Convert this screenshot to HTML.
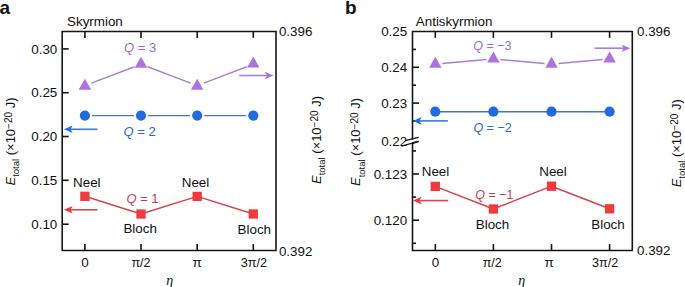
<!DOCTYPE html>
<html><head><meta charset="utf-8"><style>
html,body{margin:0;padding:0;background:#fff;}
body{width:685px;height:287px;overflow:hidden;font-family:"Liberation Sans",sans-serif;}
svg{display:block;}
</style></head><body>
<svg width="685" height="287" viewBox="0 0 685 287" font-family="Liberation Sans, sans-serif">
<rect width="685" height="287" fill="#fff"/>
<path d="M62.2,31.5 H276 V250.5 H62.2 Z" fill="none" stroke="#151515" stroke-width="1.6"/>
<line x1="84.9" y1="31.5" x2="84.9" y2="37.9" stroke="#151515" stroke-width="1.6"/>
<line x1="84.9" y1="250.5" x2="84.9" y2="244.1" stroke="#151515" stroke-width="1.6"/>
<line x1="141" y1="31.5" x2="141" y2="37.9" stroke="#151515" stroke-width="1.6"/>
<line x1="141" y1="250.5" x2="141" y2="244.1" stroke="#151515" stroke-width="1.6"/>
<line x1="197.2" y1="31.5" x2="197.2" y2="37.9" stroke="#151515" stroke-width="1.6"/>
<line x1="197.2" y1="250.5" x2="197.2" y2="244.1" stroke="#151515" stroke-width="1.6"/>
<line x1="253.3" y1="31.5" x2="253.3" y2="37.9" stroke="#151515" stroke-width="1.6"/>
<line x1="253.3" y1="250.5" x2="253.3" y2="244.1" stroke="#151515" stroke-width="1.6"/>
<line x1="62.2" y1="48.9" x2="68.7" y2="48.9" stroke="#151515" stroke-width="1.6"/>
<text x="57.3" y="53.6" text-anchor="end" font-size="13.4" fill="#111" >0.30</text>
<line x1="62.2" y1="92.7" x2="68.7" y2="92.7" stroke="#151515" stroke-width="1.6"/>
<text x="57.3" y="97.4" text-anchor="end" font-size="13.4" fill="#111" >0.25</text>
<line x1="62.2" y1="136.5" x2="68.7" y2="136.5" stroke="#151515" stroke-width="1.6"/>
<text x="57.3" y="141.2" text-anchor="end" font-size="13.4" fill="#111" >0.20</text>
<line x1="62.2" y1="180.3" x2="68.7" y2="180.3" stroke="#151515" stroke-width="1.6"/>
<text x="57.3" y="185" text-anchor="end" font-size="13.4" fill="#111" >0.15</text>
<line x1="62.2" y1="224.2" x2="68.7" y2="224.2" stroke="#151515" stroke-width="1.6"/>
<text x="57.3" y="228.9" text-anchor="end" font-size="13.4" fill="#111" >0.10</text>
<text x="84.9" y="266.7" text-anchor="middle" font-size="13.4" fill="#111" >0</text>
<text x="141" y="266.7" text-anchor="middle" font-size="13.4" fill="#111" textLength="19.2" lengthAdjust="spacingAndGlyphs">π/2</text>
<text x="197.2" y="266.7" text-anchor="middle" font-size="13.4" fill="#111" >π</text>
<text x="253.9" y="266.7" text-anchor="middle" font-size="13.4" fill="#111" textLength="26.3" lengthAdjust="spacingAndGlyphs">3π/2</text>
<text x="169.8" y="284.5" text-anchor="middle" font-size="14" fill="#111" font-style="italic" font-family="Liberation Serif, serif">η</text>
<text x="278.9" y="36.2" text-anchor="start" font-size="13.4" fill="#111" >0.396</text>
<text x="278.9" y="256.1" text-anchor="start" font-size="13.4" fill="#111" >0.392</text>
<text x="67" y="25.8" text-anchor="start" font-size="13.4" fill="#111" >Skyrmion</text>
<text x="-0.5" y="13.6" text-anchor="start" font-size="19" fill="#111" font-weight="bold">a</text>
<text transform="translate(14.6,141.5) rotate(-90)" x="0" y="0" text-anchor="middle" font-size="13" fill="#111"><tspan font-style="italic">E</tspan><tspan font-size="9.5" dy="4.3">total</tspan><tspan dy="-4.3"> (×10</tspan><tspan font-size="10" dy="-2.6">−20</tspan><tspan dy="2.6"> J)</tspan></text>
<text transform="translate(320.6,140) rotate(-90)" x="0" y="0" text-anchor="middle" font-size="13" fill="#111"><tspan font-style="italic">E</tspan><tspan font-size="9.5" dy="4.3">total</tspan><tspan dy="-4.3"> (×10</tspan><tspan font-size="10" dy="-2.6">−20</tspan><tspan dy="2.6"> J)</tspan></text>
<line x1="91.44" y1="83.12" x2="134.46" y2="66.78" stroke="#a582d8" stroke-width="1.45"/>
<line x1="147.55" y1="66.78" x2="190.65" y2="83.12" stroke="#a582d8" stroke-width="1.45"/>
<line x1="203.74" y1="83.12" x2="246.76" y2="66.78" stroke="#a582d8" stroke-width="1.45"/>
<path d="M84.9,78.7 L91.15,89.7 L78.65,89.7 Z" fill="#ad72e0"/>
<path d="M141,56.65 L147.25,67.65 L134.75,67.65 Z" fill="#ad72e0"/>
<path d="M197.2,78.7 L203.45,89.7 L190.95,89.7 Z" fill="#ad72e0"/>
<path d="M253.3,56.5 L259.55,67.5 L247.05,67.5 Z" fill="#ad72e0"/>
<line x1="84.9" y1="115.6" x2="253.3" y2="115.6" stroke="#4577c0" stroke-width="1.45"/>
<circle cx="84.9" cy="115.6" r="7.1" fill="#fff"/>
<circle cx="84.9" cy="115.6" r="5.1" fill="#216cdc"/>
<circle cx="141" cy="115.6" r="7.1" fill="#fff"/>
<circle cx="141" cy="115.6" r="5.1" fill="#216cdc"/>
<circle cx="197.2" cy="115.6" r="7.1" fill="#fff"/>
<circle cx="197.2" cy="115.6" r="5.1" fill="#216cdc"/>
<circle cx="253.3" cy="115.6" r="7.1" fill="#fff"/>
<circle cx="253.3" cy="115.6" r="5.1" fill="#216cdc"/>
<line x1="84.9" y1="196.3" x2="141" y2="214" stroke="#d6434f" stroke-width="1.45"/>
<line x1="141" y1="214" x2="197.2" y2="196.4" stroke="#d6434f" stroke-width="1.45"/>
<line x1="197.2" y1="196.4" x2="253.3" y2="214" stroke="#d6434f" stroke-width="1.45"/>
<rect x="80.25" y="191.65" width="9.3" height="9.3" fill="#ef3a3e"/>
<rect x="136.35" y="209.35" width="9.3" height="9.3" fill="#ef3a3e"/>
<rect x="192.55" y="191.75" width="9.3" height="9.3" fill="#ef3a3e"/>
<rect x="248.65" y="209.35" width="9.3" height="9.3" fill="#ef3a3e"/>
<line x1="239.2" y1="75.5" x2="267.4" y2="75.5" stroke="#a77fdc" stroke-width="1.6"/>
<path d="M273.5,75.5 L264.7,71.7 L266.9,75.5 L264.7,79.3 Z" fill="#ad72e0"/>
<line x1="97.5" y1="129.3" x2="70" y2="129.3" stroke="#3d78d2" stroke-width="1.6"/>
<path d="M63.9,129.3 L72.7,125.5 L70.5,129.3 L72.7,133.1 Z" fill="#216cdc"/>
<line x1="97.5" y1="209.8" x2="70" y2="209.8" stroke="#d24c57" stroke-width="1.6"/>
<path d="M63.9,209.8 L72.7,206 L70.5,209.8 L72.7,213.6 Z" fill="#ef3a3e"/>
<text x="124" y="52.3" text-anchor="start" font-size="13" fill="#9c6bd0"><tspan font-style="italic">Q</tspan> = 3</text>
<text x="123.6" y="135.6" text-anchor="start" font-size="13" fill="#2b69c4"><tspan font-style="italic">Q</tspan> = 2</text>
<text x="126.4" y="203" text-anchor="start" font-size="13" fill="#d03a48"><tspan font-style="italic">Q</tspan> = 1</text>
<text x="86.8" y="186.6" text-anchor="middle" font-size="13.4" fill="#111" >Neel</text>
<text x="195.5" y="187" text-anchor="middle" font-size="13.4" fill="#111" >Neel</text>
<text x="140.2" y="233.1" text-anchor="middle" font-size="13.4" fill="#111" >Bloch</text>
<text x="254.3" y="233.9" text-anchor="middle" font-size="13.4" fill="#111" >Bloch</text>
<path d="M412.5,139.8 V31.5 H632.3 V250.5 H412.5 V142.6" fill="none" stroke="#151515" stroke-width="1.6"/>
<line x1="435.3" y1="31.5" x2="435.3" y2="37.9" stroke="#151515" stroke-width="1.6"/>
<line x1="435.3" y1="250.5" x2="435.3" y2="244.1" stroke="#151515" stroke-width="1.6"/>
<line x1="493.4" y1="31.5" x2="493.4" y2="37.9" stroke="#151515" stroke-width="1.6"/>
<line x1="493.4" y1="250.5" x2="493.4" y2="244.1" stroke="#151515" stroke-width="1.6"/>
<line x1="551.5" y1="31.5" x2="551.5" y2="37.9" stroke="#151515" stroke-width="1.6"/>
<line x1="551.5" y1="250.5" x2="551.5" y2="244.1" stroke="#151515" stroke-width="1.6"/>
<line x1="609.6" y1="31.5" x2="609.6" y2="37.9" stroke="#151515" stroke-width="1.6"/>
<line x1="609.6" y1="250.5" x2="609.6" y2="244.1" stroke="#151515" stroke-width="1.6"/>
<line x1="412.5" y1="67.3" x2="419" y2="67.3" stroke="#151515" stroke-width="1.6"/>
<line x1="412.5" y1="103.1" x2="419" y2="103.1" stroke="#151515" stroke-width="1.6"/>
<line x1="412.5" y1="174" x2="419" y2="174" stroke="#151515" stroke-width="1.6"/>
<line x1="412.5" y1="220.2" x2="419" y2="220.2" stroke="#151515" stroke-width="1.6"/>
<line x1="412.5" y1="49.4" x2="416" y2="49.4" stroke="#151515" stroke-width="1.6"/>
<line x1="412.5" y1="85.2" x2="416" y2="85.2" stroke="#151515" stroke-width="1.6"/>
<line x1="412.5" y1="121" x2="416" y2="121" stroke="#151515" stroke-width="1.6"/>
<line x1="412.5" y1="150.9" x2="416" y2="150.9" stroke="#151515" stroke-width="1.6"/>
<line x1="412.5" y1="197.1" x2="416" y2="197.1" stroke="#151515" stroke-width="1.6"/>
<line x1="412.5" y1="243.3" x2="416" y2="243.3" stroke="#151515" stroke-width="1.6"/>
<path d="M405,140.7 L418.6,137.4 M401.5,146.2 L418.6,141.4" stroke="#151515" stroke-width="1.3" fill="none"/>
<path d="M412.6,141.9 L418.8,140.7 L418.6,142.1 L412.6,144.2 Z" fill="#151515"/>
<text x="407.2" y="36.2" text-anchor="end" font-size="13.4" fill="#111" >0.25</text>
<text x="407.2" y="72" text-anchor="end" font-size="13.4" fill="#111" >0.24</text>
<text x="407.2" y="107.8" text-anchor="end" font-size="13.4" fill="#111" >0.23</text>
<text x="407.2" y="146.3" text-anchor="end" font-size="13.4" fill="#111" >0.22</text>
<text x="407.2" y="178.7" text-anchor="end" font-size="13.4" fill="#111" >0.123</text>
<text x="407.2" y="224.9" text-anchor="end" font-size="13.4" fill="#111" >0.120</text>
<text x="435.6" y="266.8" text-anchor="middle" font-size="13.4" fill="#111" >0</text>
<text x="492.3" y="266.8" text-anchor="middle" font-size="13.4" fill="#111" textLength="19.2" lengthAdjust="spacingAndGlyphs">π/2</text>
<text x="549" y="266.8" text-anchor="middle" font-size="13.4" fill="#111" >π</text>
<text x="605.1" y="266.8" text-anchor="middle" font-size="13.4" fill="#111" textLength="26.3" lengthAdjust="spacingAndGlyphs">3π/2</text>
<text x="521.7" y="284.5" text-anchor="middle" font-size="14" fill="#111" font-style="italic" font-family="Liberation Serif, serif">η</text>
<text x="637" y="36.2" text-anchor="start" font-size="13.4" fill="#111" >0.396</text>
<text x="637" y="255" text-anchor="start" font-size="13.4" fill="#111" >0.392</text>
<text x="415.8" y="25.9" text-anchor="start" font-size="13.4" fill="#111" >Antiskyrmion</text>
<text x="345" y="13.6" text-anchor="start" font-size="19" fill="#111" font-weight="bold">b</text>
<text transform="translate(360.3,142) rotate(-90)" x="0" y="0" text-anchor="middle" font-size="13" fill="#111"><tspan font-style="italic">E</tspan><tspan font-size="9.5" dy="4.3">total</tspan><tspan dy="-4.3"> (×10</tspan><tspan font-size="10" dy="-2.6">−20</tspan><tspan dy="2.6"> J)</tspan></text>
<text transform="translate(680.8,143.3) rotate(-90)" x="0" y="0" text-anchor="middle" font-size="13" fill="#111"><tspan font-style="italic">E</tspan><tspan font-size="9.5" dy="4.3">total</tspan><tspan dy="-4.3"> (×10</tspan><tspan font-size="10" dy="-2.6">−20</tspan><tspan dy="2.6"> J)</tspan></text>
<line x1="442.27" y1="63.56" x2="486.43" y2="59.54" stroke="#a582d8" stroke-width="1.45"/>
<line x1="500.37" y1="59.54" x2="544.53" y2="63.56" stroke="#a582d8" stroke-width="1.45"/>
<line x1="558.47" y1="63.56" x2="602.63" y2="59.54" stroke="#a582d8" stroke-width="1.45"/>
<path d="M435.3,56.75 L441.55,67.75 L429.05,67.75 Z" fill="#ad72e0"/>
<path d="M493.4,51.4 L499.65,62.4 L487.15,62.4 Z" fill="#ad72e0"/>
<path d="M551.5,56.65 L557.75,67.65 L545.25,67.65 Z" fill="#ad72e0"/>
<path d="M609.6,51.5 L615.85,62.5 L603.35,62.5 Z" fill="#ad72e0"/>
<line x1="435.3" y1="111.7" x2="609.6" y2="111.7" stroke="#4577c0" stroke-width="1.45"/>
<circle cx="435.3" cy="111.7" r="5.1" fill="#216cdc"/>
<circle cx="493.4" cy="111.7" r="5.1" fill="#216cdc"/>
<circle cx="551.5" cy="111.7" r="5.1" fill="#216cdc"/>
<circle cx="609.6" cy="111.7" r="5.1" fill="#216cdc"/>
<line x1="435.3" y1="186.4" x2="493.4" y2="209" stroke="#d6434f" stroke-width="1.45"/>
<line x1="493.4" y1="209" x2="551.5" y2="186.2" stroke="#d6434f" stroke-width="1.45"/>
<line x1="551.5" y1="186.2" x2="609.6" y2="208.8" stroke="#d6434f" stroke-width="1.45"/>
<rect x="430.65" y="181.75" width="9.3" height="9.3" fill="#ef3a3e"/>
<rect x="488.75" y="204.35" width="9.3" height="9.3" fill="#ef3a3e"/>
<rect x="546.85" y="181.55" width="9.3" height="9.3" fill="#ef3a3e"/>
<rect x="604.95" y="204.15" width="9.3" height="9.3" fill="#ef3a3e"/>
<line x1="594.5" y1="48.2" x2="624.2" y2="48.2" stroke="#a77fdc" stroke-width="1.6"/>
<path d="M630.3,48.2 L621.5,44.4 L623.7,48.2 L621.5,52 Z" fill="#ad72e0"/>
<line x1="447.9" y1="120.9" x2="419" y2="120.9" stroke="#3d78d2" stroke-width="1.6"/>
<path d="M412.9,120.9 L421.7,117.1 L419.5,120.9 L421.7,124.7 Z" fill="#216cdc"/>
<line x1="448.2" y1="200.6" x2="419" y2="200.6" stroke="#d24c57" stroke-width="1.6"/>
<path d="M412.9,200.6 L421.7,196.8 L419.5,200.6 L421.7,204.4 Z" fill="#ef3a3e"/>
<text x="473.2" y="49.6" text-anchor="start" font-size="13" fill="#9c6bd0" textLength="38.3" lengthAdjust="spacingAndGlyphs"><tspan font-style="italic">Q</tspan> = −3</text>
<text x="473.4" y="131.7" text-anchor="start" font-size="13" fill="#2b69c4" textLength="38.3" lengthAdjust="spacingAndGlyphs"><tspan font-style="italic">Q</tspan> = −2</text>
<text x="475.2" y="198.6" text-anchor="start" font-size="13" fill="#d03a48" textLength="38.3" lengthAdjust="spacingAndGlyphs"><tspan font-style="italic">Q</tspan> = −1</text>
<text x="435.5" y="176.4" text-anchor="middle" font-size="13.4" fill="#111" >Neel</text>
<text x="553" y="176.4" text-anchor="middle" font-size="13.4" fill="#111" >Neel</text>
<text x="492.5" y="228.8" text-anchor="middle" font-size="13.4" fill="#111" >Bloch</text>
<text x="608" y="228.8" text-anchor="middle" font-size="13.4" fill="#111" >Bloch</text>
</svg>
</body></html>
